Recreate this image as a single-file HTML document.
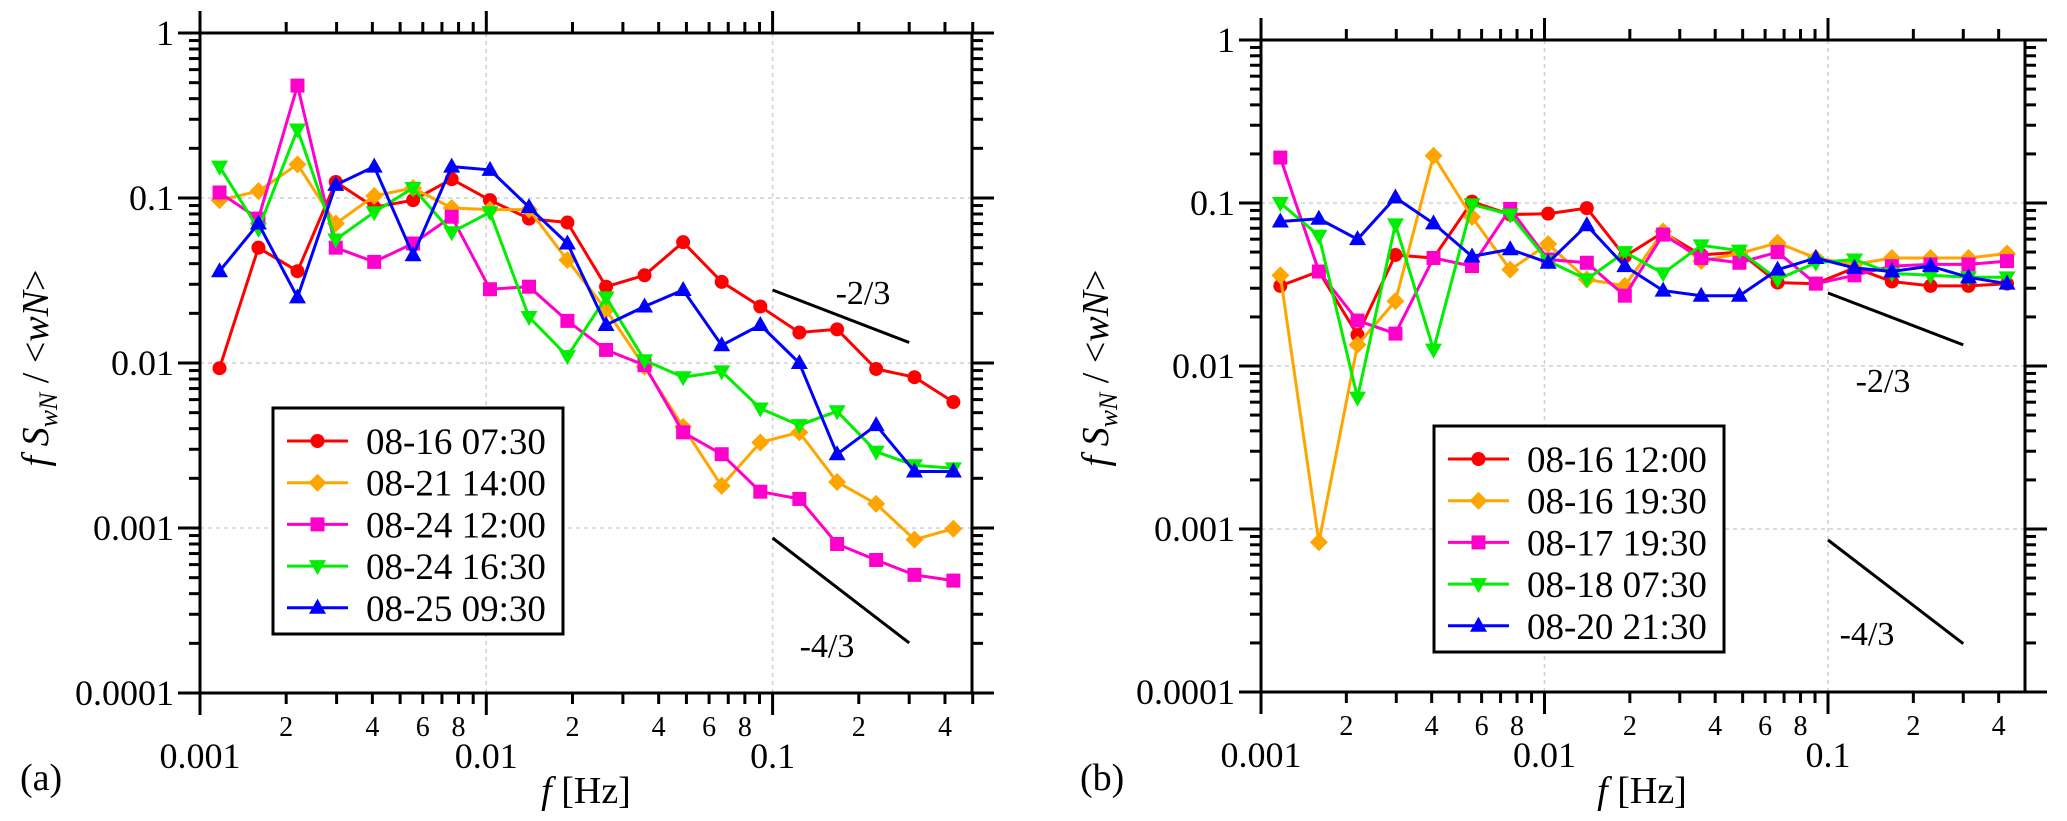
<!DOCTYPE html>
<html><head><meta charset="utf-8"><style>
html,body{margin:0;padding:0;background:#fff;width:2067px;height:821px;overflow:hidden}
svg{display:block;font-family:"Liberation Serif","DejaVu Serif",serif}
text,tspan{font-family:"Liberation Serif","DejaVu Serif",serif;fill:#000}
</style></head><body>
<svg id="chart" width="2067" height="821" viewBox="0 0 2067 821" xmlns="http://www.w3.org/2000/svg" font-family="Liberation Serif, DejaVu Serif, serif"></svg>
<script>
const freqs=[0.00117,0.00160,0.00219,0.00298,0.00406,0.00555,0.00757,0.0103,0.0141,0.0192,0.0262,0.0357,0.0487,0.0664,0.0906,0.124,0.168,0.230,0.313,0.428];
const labelsA=["08-16 07:30","08-21 14:00","08-24 12:00","08-24 16:30","08-25 09:30"];
const a1=[0.0093,0.05,0.036,0.125,0.088,0.097,0.13,0.097,0.075,0.071,0.029,0.034,0.054,0.031,0.022,0.0153,0.016,0.0092,0.0082,0.0058];
const a2=[0.097,0.11,0.16,0.07,0.103,0.115,0.087,0.085,0.085,0.042,0.021,0.0095,0.0041,0.0018,0.0033,0.0038,0.0019,0.0014,0.00085,0.00099];
const a3=[0.108,0.075,0.48,0.05,0.041,0.053,0.077,0.028,0.029,0.018,0.012,0.0097,0.0038,0.0028,0.00166,0.0015,0.0008,0.00064,0.00052,0.00048];
const a4=[0.155,0.065,0.26,0.056,0.082,0.115,0.062,0.082,0.019,0.011,0.025,0.0104,0.0082,0.0089,0.0053,0.0042,0.0051,0.0029,0.0024,0.0023];
const a5=[0.036,0.07,0.025,0.12,0.155,0.045,0.155,0.148,0.088,0.053,0.017,0.022,0.0277,0.0128,0.017,0.01,0.0028,0.0042,0.0022,0.0022];
const labelsB=["08-16 12:00","08-16 19:30","08-17 19:30","08-18 07:30","08-20 21:30"];
const b1=[0.031,0.038,0.0155,0.048,0.046,0.102,0.085,0.086,0.093,0.047,0.066,0.048,0.05,0.0325,0.032,0.04,0.033,0.031,0.031,0.032];
const b2=[0.036,0.00083,0.0135,0.025,0.195,0.082,0.039,0.056,0.034,0.031,0.067,0.044,0.049,0.057,0.046,0.042,0.046,0.046,0.046,0.049];
const b3=[0.19,0.038,0.019,0.0158,0.046,0.041,0.092,0.045,0.043,0.027,0.064,0.046,0.043,0.05,0.032,0.036,0.041,0.042,0.042,0.044];
const b4=[0.1,0.063,0.0064,0.074,0.0126,0.098,0.085,0.044,0.034,0.05,0.037,0.055,0.051,0.034,0.043,0.045,0.037,0.036,0.035,0.035];
const b5=[0.077,0.08,0.06,0.108,0.075,0.047,0.052,0.043,0.073,0.041,0.029,0.027,0.027,0.039,0.046,0.04,0.038,0.041,0.035,0.032];
const yTicks=[1,0.1,0.01,0.001,0.0001];
const yTickLabels=["1","0.1","0.01","0.001","0.0001"];
const xMajor=[0.001,0.01,0.1];
const xMajorLabels=["0.001","0.01","0.1"];
const xMinorLabels=["2","4","6","8"];

const NS="http://www.w3.org/2000/svg";
const svg=document.getElementById('chart');
function el(tag,attrs,parent){const e=document.createElementNS(NS,tag);for(const k in attrs)e.setAttribute(k,attrs[k]);(parent||svg).appendChild(e);return e;}
const colors=["#ff0000","#ffa500","#ff00cc","#00ee00","#0000ff"];
const shapes=["circle","diamond","square","tridown","triup"];

function marker(g,shape,cx,cy,c){
  let m;
  if(shape==="circle")m=el('circle',{cx:cx,cy:cy,r:7,fill:c},g);
  else if(shape==="square")m=el('rect',{x:cx-7,y:cy-7,width:14,height:14,fill:c},g);
  else if(shape==="diamond")m=el('polygon',{points:`${cx},${cy-9} ${cx+9},${cy} ${cx},${cy+9} ${cx-9},${cy}`,fill:c},g);
  else if(shape==="triup")m=el('polygon',{points:`${cx},${cy-9} ${cx+8.5},${cy+6} ${cx-8.5},${cy+6}`,fill:c},g);
  else m=el('polygon',{points:`${cx},${cy+9} ${cx+8.5},${cy-6} ${cx-8.5},${cy-6}`,fill:c},g);
  return m;
}

function panel(P){
  const X=f=>P.x0+(Math.log10(f)+3)*P.xd;
  const Y=v=>P.y0-Math.log10(v)*P.yd;
  const L=P.x0,R=P.x1,T=P.y0,B=Y(0.0001);
  const g=el('g',{});
  
  
  xMajor.forEach(f=>{const l=el('line',{x1:X(f),x2:X(f),y1:T,y2:B,stroke:'#d0d0d0','stroke-width':1.5,'stroke-dasharray':'4,4'},g);});
  yTicks.forEach(v=>{const l=el('line',{x1:L,x2:R,y1:Y(v),y2:Y(v),stroke:'#d0d0d0','stroke-width':1.5,'stroke-dasharray':'4,4'},g);});
  const ref=el('g',{},g);
  P.refs.forEach(r=>{
    el('line',{x1:X(0.1),y1:r.y1,x2:X(0.3),y2:r.y1+(r.s)*Math.log10(3)*P.yd,stroke:'#000','stroke-width':3},ref);
    const t=el('text',{x:r.tx,y:r.ty,'font-size':34,'text-anchor':'middle'},ref);t.textContent=r.label;
  });
  P.series.forEach((s,i)=>{
    const sg=el('g',{},g);
    
    
    const pts=freqs.map((f,j)=>X(f).toFixed(1)+','+Y(s[j]).toFixed(1)).join(' ');
    el('polyline',{points:pts,fill:'none',stroke:colors[i],'stroke-width':3},sg);
    freqs.forEach((f,j)=>{const m=marker(sg,shapes[i],X(f),Y(s[j]),colors[i]);});
  });
  const ax=el('g',{},g);
  el('rect',{x:L,y:T,width:R-L,height:B-T,fill:'none',stroke:'#000','stroke-width':3},ax);
  for(let d=0;d>-4;d--){
    for(let k=1;k<=10;k++){
      const v=k*Math.pow(10,d-1);const y=Y(v);
      const len=(k===1||k===10)?22:11;
      if(k===1&&d!==-3) continue;
      el('line',{x1:L-len,x2:L,y1:y,y2:y,stroke:'#000','stroke-width':3},ax);
      el('line',{x1:R,x2:R+len,y1:y,y2:y,stroke:'#000','stroke-width':3},ax);
    }
  }
  yTicks.forEach((v,i)=>{const t=el('text',{x:L-26,y:Y(v)+12,'font-size':36,'text-anchor':'end'},ax);t.textContent=yTickLabels[i];});
  for(let d=-3;d<=-1;d++){
    for(let k=1;k<=9;k++){
      const f=k*Math.pow(10,d);const x=X(f);if(x>R+1)break;
      const len=k===1?22:11;
      el('line',{x1:x,x2:x,y1:B,y2:B+len,stroke:'#000','stroke-width':3},ax);
      el('line',{x1:x,x2:x,y1:T-len,y2:T,stroke:'#000','stroke-width':3},ax);
      if(k%2===0&&k<=8){const t=el('text',{x:x,y:B+43,'font-size':28,'text-anchor':'middle'},ax);t.textContent=xMinorLabels[k/2-1];}
    }
  }
  xMajor.forEach((f,i)=>{const t=el('text',{x:X(f),y:B+75,'font-size':36,'text-anchor':'middle'},ax);t.textContent=xMajorLabels[i];});
  const xt=el('text',{x:P.xtx,y:803,'font-size':38,'text-anchor':'middle'},g);
  
  xt.innerHTML='<tspan font-style="italic">f</tspan> [Hz]';
  const yt=el('text',{x:0,y:0,'font-size':38,'text-anchor':'middle',transform:`translate(${P.ytx},368) rotate(-90)`},g);
  
  yt.innerHTML='<tspan font-style="italic">f S</tspan><tspan font-style="italic" font-size="26" dy="9">wN</tspan><tspan dy="-9"> / &lt;</tspan><tspan font-style="italic">wN</tspan>&gt;';
  const pl=el('text',{x:P.plx,y:790,'font-size':38},g);pl.textContent=P.plabel;
  
  const lg=el('g',{},g);
  el('rect',{x:P.lg.x,y:P.lg.y,width:290,height:226,fill:'#fff',stroke:'#000','stroke-width':3},lg);
  P.labels.forEach((lab,i)=>{
    const ey=P.lg.y+33+i*41.7;
    const e=el('g',{},lg);
    el('line',{x1:P.lg.x+14,x2:P.lg.x+75,y1:ey,y2:ey,stroke:colors[i],'stroke-width':3},e);
    marker(e,shapes[i],P.lg.x+44.5,ey,colors[i]);
    const t=el('text',{x:P.lg.x+93,y:ey+13,'font-size':37},e);t.textContent=lab;
  });
}
panel({name:'panel-a',x0:200,x1:972,xd:286.3,y0:33,yd:165,series:[a1,a2,a3,a4,a5],labels:labelsA,
  refs:[{y1:290,s:2/3,label:'-2/3',tx:863,ty:304},{y1:538,s:4/3,label:'-4/3',tx:827,ty:657}],
  xtx:586,ytx:48,plx:20,plabel:'(a)',lg:{x:273,y:408}});
panel({name:'panel-b',x0:1261,x1:2025,xd:283.5,y0:40,yd:163,series:[b1,b2,b3,b4,b5],labels:labelsB,
  refs:[{y1:293,s:2/3,label:'-2/3',tx:1883,ty:392},{y1:540,s:4/3,label:'-4/3',tx:1867,ty:645}],
  xtx:1642,ytx:1108,plx:1080,plabel:'(b)',lg:{x:1434,y:426}});
</script>
</body></html>
